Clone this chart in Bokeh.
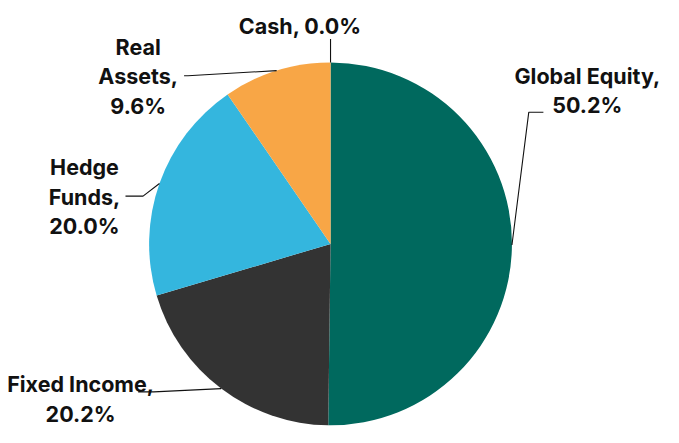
import math
from bokeh.plotting import figure
from bokeh.models import ColumnDataSource, Range1d
from bokeh.core.properties import value
from bokeh.embed import file_html
from bokeh.resources import INLINE

# ---- data ----
categories = ["Global Equity", "Fixed Income", "Hedge Funds", "Real Assets", "Cash"]
shares = [50.2, 20.2, 20.0, 9.6, 0.0]
colors = ["#00695E", "#333333", "#34B6DE", "#F8A646", "#CCCCCC"]

# ---- layout (reference pixel coordinates, 679x443, mapped onto the canvas) ----
W, H = 663, 427
RW, RH = 679, 443
SX, SY = W / RW, H / RH
CX, CY, R = 338.0, 252.5, 187.0
FONT = "Inter"
FSIZE = "21.5px"
LINE_GAP = 30.5
wrap = {"Global Equity": "two", "Fixed Income": "two", "Hedge Funds": "words",
        "Real Assets": "words", "Cash": "one"}
label_pos = {"Global Equity": (601, 78), "Fixed Income": (82, 398),
             "Hedge Funds": (86, 173), "Real Assets": (141, 48), "Cash": (307, 26)}
leader_pts = {"Global Equity": [(541, 116), (556, 116)],
              "Fixed Income": [(157, 406), (141, 406)],
              "Hedge Funds": [(146, 203), (128, 203)],
              "Real Assets": [(192, 78), (188, 78)],
              "Cash": [(338, 40)]}


def dx(X):
    return X * SX


def dy(Y):
    return H - Y * SY


RS = R * (SX + SY) / 2

p = figure(width=W, height=H, output_backend="svg", toolbar_location=None,
           x_range=Range1d(0, W), y_range=Range1d(0, H), min_border=0)
p.axis.visible = False
p.grid.visible = False
p.outline_line_color = None
p.background_fill_color = "white"
p.border_fill_color = "white"

total = sum(shares)
starts, ends, mids = [], [], []
cum = 0.0
for s in shares:
    a0 = math.pi / 2 - 2 * math.pi * cum / total
    cum += s
    a1 = math.pi / 2 - 2 * math.pi * cum / total
    starts.append(a1)
    ends.append(a0)
    mids.append((a0 + a1) / 2)

keep = [i for i, s in enumerate(shares) if s > 0]
src = ColumnDataSource(dict(x=[dx(CX)] * len(keep), y=[dy(CY)] * len(keep),
                            start=[starts[i] for i in keep], end=[ends[i] for i in keep],
                            color=[colors[i] for i in keep],
                            cat=[categories[i] for i in keep]))
p.wedge(x="x", y="y", radius=RS, start_angle="start", end_angle="end",
        fill_color="color", line_color=None, source=src)

# leader lines
for cat, m in zip(categories, mids):
    xs = [dx(CX) + RS * math.cos(m)]
    ys = [dy(CY) + RS * math.sin(m)]
    for (X, Y) in leader_pts[cat]:
        xs.append(dx(X))
        ys.append(dy(Y))
    p.line(xs, ys, line_color="#111111", line_width=1.1)

# labels
tx, ty, tt = [], [], []
for cat, s in zip(categories, shares):
    pct = f"{s:.1f}%"
    mode = wrap[cat]
    if mode == "one":
        lines = [f"{cat}, {pct}"]
    elif mode == "two":
        lines = [f"{cat},", pct]
    else:
        words = cat.split()
        lines = words[:-1] + [words[-1] + ","] + [pct]
    X, Y = label_pos[cat]
    for i, ln in enumerate(lines):
        tx.append(dx(X))
        ty.append(dy(Y + i * LINE_GAP))
        tt.append(ln)

p.text(x=tx, y=ty, text=tt, text_font=value(FONT), text_font_size=FSIZE,
       text_font_style="bold", text_align="center", text_baseline="alphabetic",
       text_color="#111111")

open("out.html", "w").write(file_html(p, INLINE))
